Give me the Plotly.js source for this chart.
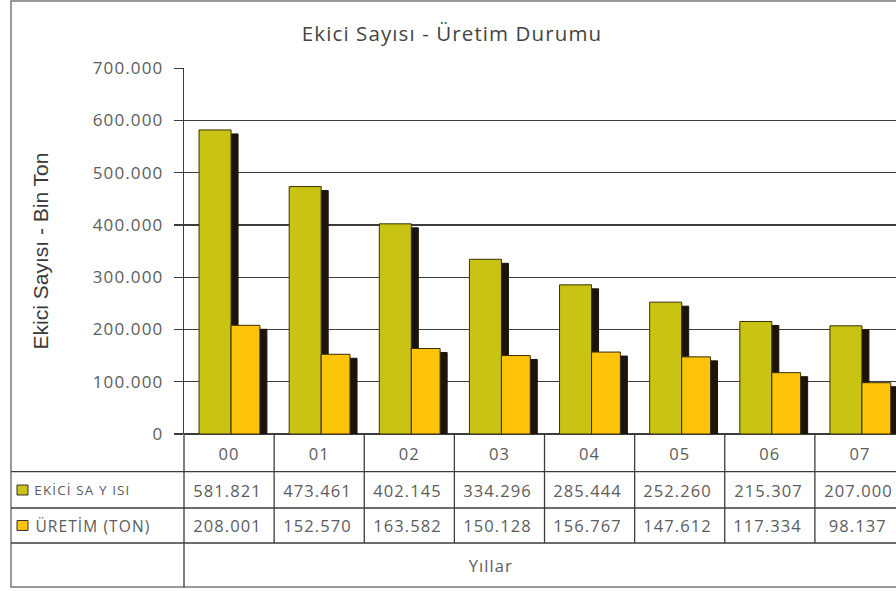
<!DOCTYPE html>
<html>
<head>
<meta charset="utf-8">
<script src="https://cdn.plot.ly/plotly-3.0.1.min.js"></script>
<style>
html,body{margin:0;padding:0;background:#fff;overflow:hidden;}
#chart{width:896px;height:591px;}
#chart svg text{letter-spacing:1.1px;}
#chart svg text.ytitle{letter-spacing:0;}
</style>
</head>
<body>
<div id="chart"></div>
<script>
// ---- data ----
const years = ['00','01','02','03','04','05','06','07'];
const ekiciSayisi = [581821, 473461, 402145, 334296, 285444, 252260, 215307, 207000];
const uretimTon = [208001, 152570, 163582, 150128, 156767, 147612, 117334, 98137];
const seriesNames = ['EKİCİ SA Y ISI', 'ÜRETİM (TON)'];
const chartTitle = 'Ekici Sayısı - Üretim Durumu';
const yTitle = 'Ekici Sayısı - Bin Ton';
const tableFooter = 'Yıllar';

// ---- styling / geometry ----
const W = 896, H = 591;
const L = 184, T = 68, PW = 712, PH = 366;
const colGreen = '#c9c414', colYellow = '#fdc40a', colShadow = '#1c140a';
const txt = '#5c5c5c';
const px2x = p => (p - L) / PW;
const py2y = p => (T + PH - p) / PH;
const YMAX = 700000;
const depth = 4 * YMAX / PH;   // shadow drop in data units (4px)
const shift = 7 / 90;          // shadow horizontal shift (category units)

function fmt(v){ return String(v).replace(/\B(?=(\d{3})+(?!\d))/g, '.'); }

const idx = years.map((_, i) => i);
const gOff = -0.333, gW = 0.355, yOff = 0.022, yW = 0.32;

function bar(y, off, w, color, line, name){
  return {type:'bar', x: idx, y: y, offset: off, width: w, name: name,
    marker:{color: color, line:{color: line, width: 1}},
    hoverinfo:'skip', showlegend:false};
}
const traces = [
  bar(ekiciSayisi.map(v => v - depth), gOff + shift, gW, colShadow, colShadow, 'shadow1'),
  bar(ekiciSayisi, gOff, gW, colGreen, '#3a3200', seriesNames[0]),
  bar(uretimTon.map(v => v - depth), yOff + shift, yW, colShadow, colShadow, 'shadow2'),
  bar(uretimTon, yOff, yW, colYellow, '#3a2a00', seriesNames[1])
];

const lineC = '#3c3c3c';
const shapes = [];
// outer frame
shapes.push({type:'rect', xref:'paper', yref:'paper', x0:px2x(11), x1:1.05, y0:py2y(587), y1:py2y(1),
  line:{color:'#777', width:1.5}, layer:'below'});
// table horizontal lines
[471.7, 508, 543].forEach(p => shapes.push({type:'line', xref:'paper', yref:'paper',
  x0:px2x(11), x1:1.05, y0:py2y(p), y1:py2y(p), line:{color:lineC, width:1.3}}));
// left table/axis line extended
shapes.push({type:'line', xref:'paper', yref:'paper', x0:0, x1:0, y0:py2y(434), y1:py2y(587),
  line:{color:lineC, width:1.3}});
// category dividers
for (let k = 0; k < years.length; k++){
  shapes.push({type:'line', xref:'x', yref:'paper', x0:k+0.5, x1:k+0.5, y0:py2y(434), y1:py2y(543),
    line:{color:lineC, width:1.3}});
}
// legend swatches
const rowY = [490, 525.5];
[colGreen, colYellow].forEach((c, i) => shapes.push({type:'rect', xref:'paper', yref:'paper',
  x0:px2x(17), x1:px2x(28), y0:py2y(rowY[i]+5), y1:py2y(rowY[i]-5),
  fillcolor:c, line:{color:'#333', width:1}}));

const annotations = [];
const tf = {family:'Open Sans, sans-serif', size:16.5, color:txt};
seriesNames.forEach((n, i) => annotations.push({xref:'paper', yref:'paper', x:px2x(40), y:py2y(rowY[i]),
  xanchor:'left', yanchor:'middle', text:n, showarrow:false,
  font:{family:'Open Sans, sans-serif', size:i===0?13.5:15.5, color:txt}}));
[ekiciSayisi, uretimTon].forEach((arr, i) => arr.forEach((v, k) => annotations.push({
  xref:'x', yref:'paper', x:k - 0.02, y:py2y(rowY[i]), xanchor:'center', yanchor:'middle',
  text:fmt(v), showarrow:false, font:tf})));
annotations.push({xref:'paper', yref:'paper', x:px2x(491), y:py2y(565), xanchor:'center', yanchor:'middle',
  text:tableFooter, showarrow:false, font:tf});

const layout = {
  width:W, height:H,
  margin:{l:L, r:W-L-PW, t:T, b:H-T-PH, pad:0},
  paper_bgcolor:'#fff', plot_bgcolor:'#fff',
  barmode:'overlay',
  separators:',.',
  title:{text:chartTitle, x:452/W, xanchor:'center', y:1-34/H, yanchor:'middle',
    font:{family:'Open Sans, sans-serif', size:20.5, color:'#444'}},
  xaxis:{range:[-0.5, 7.4], tickmode:'array', tickvals:idx, ticktext:years,
    showgrid:false, zeroline:false, showline:false, ticks:'',
    ticklabelstandoff:8, tickfont:{family:'Open Sans, sans-serif', size:16.5, color:txt}, fixedrange:true},
  yaxis:{range:[0, YMAX*1.0005], dtick:100000, tick0:0, tickformat:',',
    showgrid:true, gridcolor:lineC, gridwidth:1.3,
    zeroline:true, zerolinecolor:lineC, zerolinewidth:1.3,
    showline:true, linecolor:lineC, linewidth:1.3,
    ticks:'outside', ticklen:9, tickcolor:lineC, tickwidth:1.3,
    ticklabelstandoff:7,
    tickfont:{family:'Open Sans, sans-serif', size:17, color:txt},
    title:{text:yTitle, standoff:46, font:{family:'Liberation Sans, Arial, sans-serif', size:21, color:'#3a3a3a'}},
    automargin:false, fixedrange:true},
  shapes:shapes,
  annotations:annotations,
  showlegend:false
};

Plotly.newPlot('chart', traces, layout, {displayModeBar:false, staticPlot:true});
</script>
</body>
</html>
